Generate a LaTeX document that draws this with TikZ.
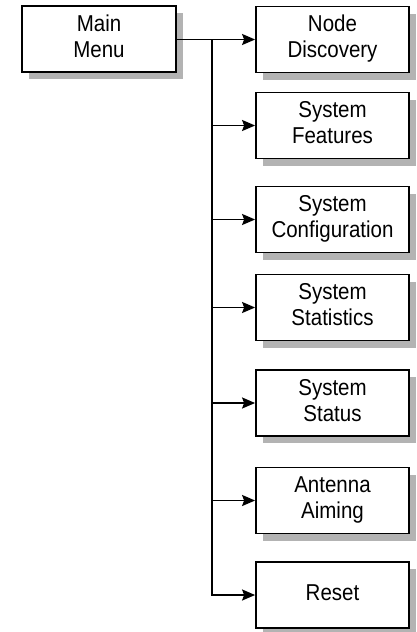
\documentclass[tikz,border=0pt]{standalone}
\usepackage{fontspec}
\setmainfont{Liberation Sans}
\usetikzlibrary{arrows.meta}
\definecolor{shadowgray}{HTML}{B3B3B3}
\newcommand{\boxlbl}[1]{\scalebox{1}[1.12]{\begin{tabular}{@{}c@{}}#1\end{tabular}}}
\tikzset{
  menubox/.style={draw=black, line width=1.8pt, fill=white, minimum width=153pt, minimum height=66pt,
    inner sep=0pt, align=center, font=\fontsize{20.5}{23}\selectfont,
    preaction={fill=shadowgray, draw=none, transform canvas={xshift=7pt, yshift=-7pt}}},
  link/.style={line width=1.8pt, -{Stealth[length=13pt, width=11pt, inset=2pt]}},
}
\begin{document}
\begin{tikzpicture}[x=1pt, y=-1pt]
\useasboundingbox (0,0) rectangle (416,632);
\node[menubox, minimum width=154pt] (mm) at (99,39) {\boxlbl{Main\\Menu}};
\node[menubox] (nd) at (332.5,39.5) {\boxlbl{Node\\Discovery}};
\node[menubox] (sf) at (332.5,125.5) {\boxlbl{System\\Features}};
\node[menubox] (sc) at (332.5,219.5) {\boxlbl{System\\Configuration}};
\node[menubox] (sst) at (332.5,307.5) {\boxlbl{System\\Statistics}};
\node[menubox] (ssu) at (332.5,403) {\boxlbl{System\\Status}};
\node[menubox] (aa) at (332.5,500.5) {\boxlbl{Antenna\\Aiming}};
\node[menubox] (rs) at (332.5,595) {\boxlbl{Reset}};
\coordinate (tr) at (212,39.5);
\draw[link] (mm.east |- nd.west) -- (nd.west);
\foreach \b in {sf,sc,sst,ssu,aa,rs}{
  \draw[link] (tr) |- (\b.west);
}
\end{tikzpicture}
\end{document}
